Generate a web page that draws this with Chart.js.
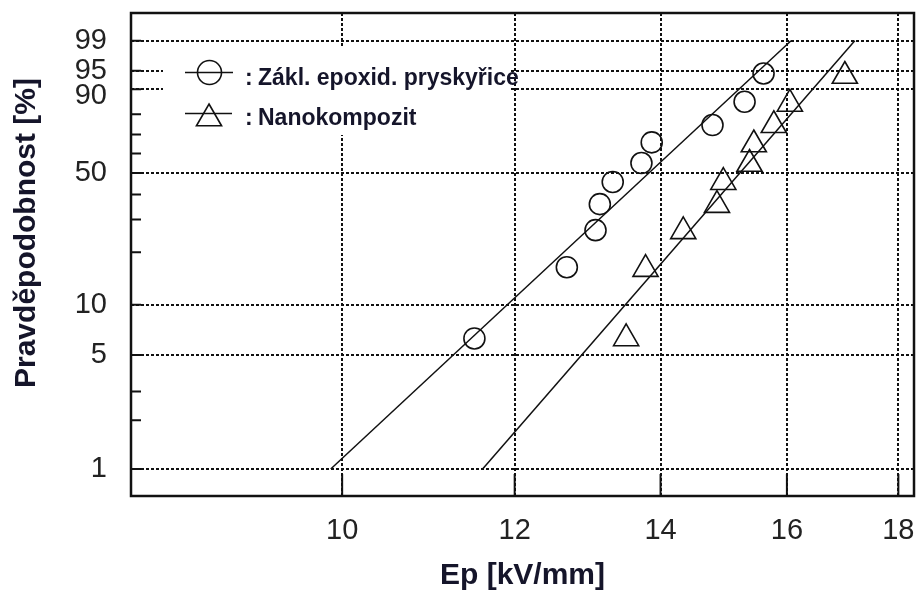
<!DOCTYPE html>
<html>
<head>
<meta charset="utf-8">
<script src="https://cdn.jsdelivr.net/npm/chart.js@4/dist/chart.umd.min.js"></script>
<style>
  html, body { margin: 0; padding: 0; background: #fff; }
</style>
</head>
<body>
<canvas id="chart" width="918" height="591"></canvas>
<script>
// data
const seriesNames = ["Zákl. epoxid. pryskyřice", "Nanokompozit"];
const xTicks = [10, 12, 14, 16, 18];
const yTicks = [1, 5, 10, 50, 90, 95, 99];
const yMinorTicks = [2, 3, 20, 30, 40, 60, 70, 80];

const epoxyE = [11.50, 12.68, 13.07, 13.13, 13.31, 13.72, 13.87, 14.79, 15.30, 15.61];
const epoxyP = [6.3, 16.5, 26.4, 35.9, 45.7, 55.1, 65.9, 74.8, 85.4, 94.4];
const nanoE = [13.50, 13.78, 14.34, 14.86, 14.96, 15.38, 15.45, 15.78, 16.05, 17.01];
const nanoP = [6.3, 16.1, 26.0, 35.5, 45.6, 54.6, 64.8, 74.7, 84.5, 93.8];

const epoxyFitE = [9.88, 16.07];
const epoxyFitP = [1, 99];
const nanoFitE = [11.60, 17.19];
const nanoFitP = [1, 99];

const INK = "#111";
const FONT = "'Liberation Sans', Arial, Helvetica, sans-serif";

// Weibull probability axis: ln(-ln(1-p))
const weib = p => Math.log(-Math.log(1 - p / 100));

class WeibullScale extends Chart.Scale {
  determineDataLimits() {
    this.min = this.options.min;
    this.max = this.options.max;
  }
  buildTicks() {
    return yTicks.map(v => ({ value: v }));
  }
  getLabelForValue(v) {
    return String(v);
  }
  configure() {
    super.configure();
    this._wMin = weib(this.min);
    this._wRange = weib(this.max) - this._wMin;
  }
  getPixelForValue(v) {
    return this.getPixelForDecimal((weib(v) - this._wMin) / this._wRange);
  }
  getValueForPixel(px) {
    const w = this._wMin + this.getDecimalForPixel(px) * this._wRange;
    return 100 * (1 - Math.exp(-Math.exp(w)));
  }
}
WeibullScale.id = "weibull";
WeibullScale.defaults = {};
Chart.register(WeibullScale);

const pts = (xs, ys) => xs.map((x, i) => ({ x: x, y: ys[i] }));

const noPad = s => {
  s.paddingLeft = 0;
  s.paddingRight = 0;
  s.paddingTop = 0;
  s.paddingBottom = 0;
};

const decor = {
  id: "decor",
  beforeDatasetsDraw(chart) {
    const { ctx, chartArea: a, scales: { x, y } } = chart;
    ctx.save();
    ctx.setLineDash([]);
    ctx.strokeStyle = INK;
    ctx.lineWidth = 2;
    ctx.beginPath();
    yTicks.concat(yMinorTicks).forEach(v => {
      const py = y.getPixelForValue(v);
      ctx.moveTo(a.left, py);
      ctx.lineTo(a.left + 10, py);
    });
    xTicks.forEach(v => {
      const px = x.getPixelForValue(v);
      ctx.moveTo(px, a.bottom);
      ctx.lineTo(px, a.bottom - 22);
    });
    ctx.stroke();

    // legend
    ctx.fillStyle = "#fff";
    ctx.fillRect(163, 48, 347, 87);
    ctx.lineWidth = 1.6;
    ctx.beginPath();
    ctx.moveTo(185, 72.5); ctx.lineTo(233, 72.5);
    ctx.moveTo(185, 113.5); ctx.lineTo(232, 113.5);
    ctx.stroke();
    ctx.beginPath();
    ctx.arc(209.5, 72.5, 12, 0, Math.PI * 2);
    ctx.stroke();
    const r = 14.5, cx = 209, cy = 118.5;
    ctx.beginPath();
    ctx.moveTo(cx, cy - r);
    ctx.lineTo(cx + r * Math.sin(2 * Math.PI / 3), cy + r / 2);
    ctx.lineTo(cx - r * Math.sin(2 * Math.PI / 3), cy + r / 2);
    ctx.closePath();
    ctx.stroke();

    ctx.fillStyle = "#15152a";
    ctx.font = "bold 23px " + FONT;
    ctx.textBaseline = "alphabetic";
    ctx.textAlign = "left";
    ctx.fillText(":", 245, 85);
    ctx.fillText(seriesNames[0], 258, 85);
    ctx.fillText(":", 245, 125);
    ctx.fillText(seriesNames[1], 258, 125);
    ctx.restore();
  },
  afterDraw(chart) {
    const { ctx, chartArea: a } = chart;
    ctx.save();
    ctx.setLineDash([]);
    ctx.strokeStyle = INK;
    ctx.lineWidth = 2.5;
    ctx.strokeRect(a.left, a.top, a.right - a.left, a.bottom - a.top);

    ctx.translate(27, 233);
    ctx.rotate(-Math.PI / 2);
    ctx.fillStyle = "#15152a";
    ctx.font = "bold 30px " + FONT;
    ctx.textAlign = "center";
    ctx.textBaseline = "middle";
    ctx.fillText("Pravděpodobnost [%]", 0, 0);
    ctx.restore();
  }
};

const lineStyle = {
  showLine: true,
  borderColor: INK,
  borderWidth: 1.5,
  pointRadius: 0,
  fill: false
};

new Chart(document.getElementById("chart"), {
  type: "scatter",
  data: {
    datasets: [
      {
        label: seriesNames[0],
        data: pts(epoxyE, epoxyP),
        pointStyle: "circle",
        pointRadius: 10.5,
        pointBorderWidth: 1.6,
        pointBorderColor: INK,
        pointBackgroundColor: "rgba(0,0,0,0)"
      },
      {
        label: seriesNames[1],
        data: pts(nanoE, nanoP),
        pointStyle: "triangle",
        pointRadius: 14.5,
        pointBorderWidth: 1.6,
        pointBorderColor: INK,
        pointBackgroundColor: "rgba(0,0,0,0)"
      },
      Object.assign({ label: "fit1", data: pts(epoxyFitE, epoxyFitP) }, lineStyle),
      Object.assign({ label: "fit2", data: pts(nanoFitE, nanoFitP) }, lineStyle)
    ]
  },
  options: {
    responsive: false,
    animation: false,
    events: [],
    layout: { autoPadding: false, padding: { left: 0, top: 13, right: 4, bottom: 0 } },
    plugins: { legend: { display: false }, tooltip: { enabled: false } },
    scales: {
      x: {
        type: "logarithmic",
        min: 8,
        max: 18.3,
        afterBuildTicks: s => { s.ticks = xTicks.map(v => ({ value: v })); },
        afterFit: s => { s.height = 95; noPad(s); },
        grid: { color: INK, lineWidth: 2, drawTicks: false },
        border: { display: false, dash: [3, 2] },
        ticks: {
          autoSkip: false,
          maxRotation: 0,
          padding: 18,
          color: "#222",
          font: { family: FONT, size: 29 },
          callback: v => String(v)
        },
        title: {
          display: true,
          text: "Ep [kV/mm]",
          color: "#15152a",
          padding: 0,
          font: { family: FONT, size: 30, weight: "bold", lineHeight: 1 }
        }
      },
      y: {
        type: "weibull",
        position: "left",
        min: 0.681,
        max: 99.894,
        afterFit: s => { s.width = 131; noPad(s); },
        grid: { color: INK, lineWidth: 2, drawTicks: false },
        border: { display: false, dash: [3, 2] },
        ticks: {
          autoSkip: false,
          padding: 24,
          color: "#222",
          // the 90 label sits a little lower than its line, as in the original
          font: c => ({ family: FONT, size: 29, lineHeight: c.tick && c.tick.value === 90 ? 0.5 : 1.2 }),
          callback: v => (v === 90 ? ["", "90"] : String(v))
        }
      }
    }
  },
  plugins: [decor]
});
</script>
</body>
</html>
